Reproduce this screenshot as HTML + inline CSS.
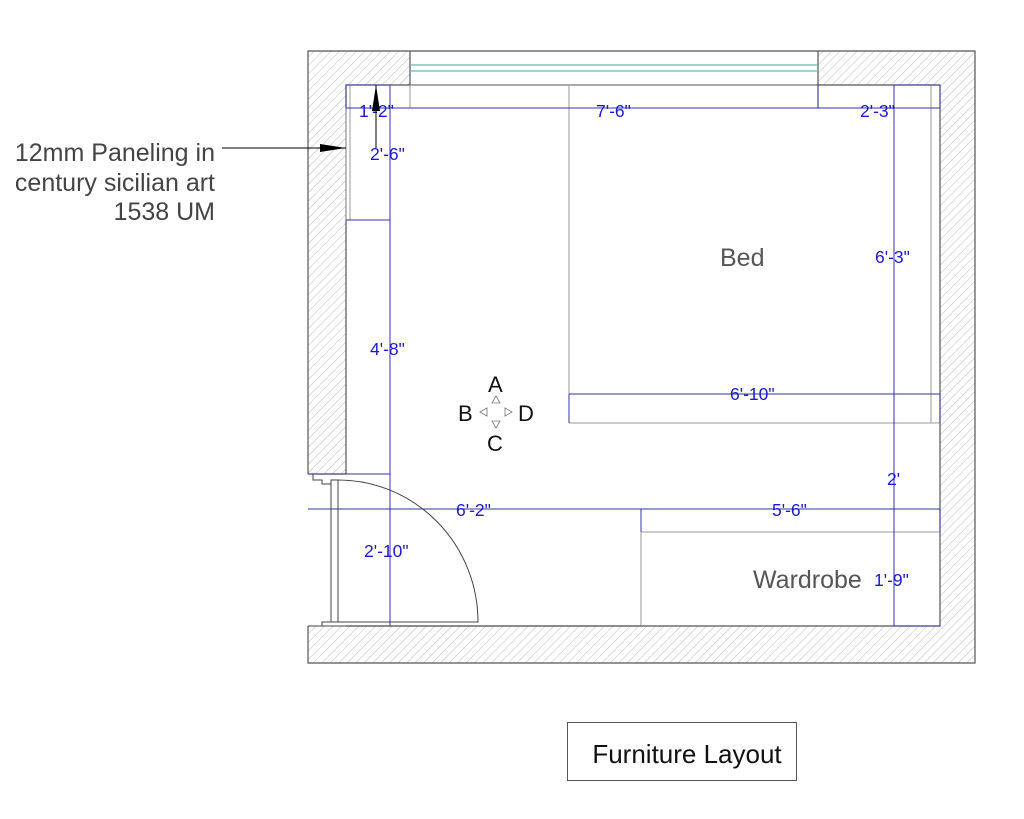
<!DOCTYPE html>
<html><head><style>
body{margin:0;background:#fff;}
svg{display:block;}
text{font-family:"Liberation Sans",Arial,sans-serif;}
</style></head><body>
<svg width="1024" height="819" viewBox="0 0 1024 819" xmlns="http://www.w3.org/2000/svg">
<defs>
<pattern id="h" width="6" height="6" patternUnits="userSpaceOnUse" patternTransform="rotate(45)">
<line x1="0" y1="0" x2="0" y2="6" stroke="#bbb" stroke-width="1"/>
</pattern>
<marker id="ar" markerWidth="26" markerHeight="10" refX="26" refY="5" orient="auto" markerUnits="userSpaceOnUse"><path d="M0,1 L26,5 L0,9 Z" fill="#000"/></marker>
</defs>
<path d="M308,51 H975 V663 H308 Z M346,85 V474 H308 V626 H940 V85 Z" fill="url(#h)" fill-rule="evenodd"/>
<rect x="410" y="51" width="408" height="34" fill="#fff"/>
<rect x="308" y="474" width="38" height="152" fill="#fff"/>
<g fill="none" stroke="#555" stroke-width="1.2">
<path d="M308,474 V51 H975 V663 H308 V626"/>
<path d="M346,474 V85 H410 V51 M818,51 V85 H940 V626 H346"/>
<line x1="308" y1="474" x2="346" y2="474"/>
</g>
<line x1="410" y1="65" x2="818" y2="65" stroke="#6bb8b0" stroke-width="1.2"/>
<line x1="410" y1="71" x2="818" y2="71" stroke="#6bb8b0" stroke-width="1.2"/>
<line x1="410" y1="85" x2="818" y2="85" stroke="#555" stroke-width="1"/>
<g fill="none" stroke="#999" stroke-width="1">
<rect x="346" y="85" width="4" height="135"/>
<line x1="410" y1="85" x2="410" y2="108"/>
<line x1="569" y1="85" x2="569" y2="423"/>
<line x1="569" y1="423" x2="940" y2="423"/>
<line x1="931" y1="85" x2="931" y2="423"/>
<line x1="641" y1="509" x2="641" y2="626"/>
<line x1="641" y1="532" x2="940" y2="532"/>
</g>
<line x1="818" y1="85" x2="818" y2="108" stroke="#1a1a99" stroke-width="1"/>
<g fill="none" stroke="#3333aa" stroke-width="1">
<rect x="346" y="85" width="44" height="23"/>
<line x1="390" y1="85" x2="390" y2="626"/>
<line x1="346" y1="108" x2="940" y2="108"/>
<line x1="346" y1="220" x2="390" y2="220"/>
<line x1="308" y1="474" x2="390" y2="474"/>
<rect x="894" y="85" width="46" height="23"/>
<line x1="894" y1="85" x2="894" y2="626"/>
<line x1="569" y1="394" x2="940" y2="394"/>
<line x1="569" y1="394" x2="569" y2="423"/>
<line x1="940" y1="394" x2="940" y2="423"/>
<line x1="308" y1="509" x2="940" y2="509"/>
<line x1="641" y1="509" x2="641" y2="532"/>
<line x1="940" y1="509" x2="940" y2="532"/>
<line x1="894" y1="626" x2="940" y2="626"/>
</g>
<g fill="none" stroke="#444" stroke-width="1">
<path d="M313,474 V480 H322 V484 H331 V622 H322 V626"/>
<rect x="331" y="480" width="7" height="142"/>
<path d="M338,480 A140,142 0 0 1 478,622 H338"/>
<line x1="308" y1="626" x2="641" y2="626"/>
</g>
<g fill="#1a1acc" font-size="17.5">
<text x="359" y="117">1'-2"</text>
<text x="596" y="117">7'-6"</text>
<text x="860" y="117">2'-3"</text>
<text x="370" y="160">2'-6"</text>
<text x="875" y="263">6'-3"</text>
<text x="370" y="355">4'-8"</text>
<text x="730" y="400">6'-10"</text>
<text x="887" y="485">2'</text>
<text x="456" y="516">6'-2"</text>
<text x="772" y="516">5'-6"</text>
<text x="364" y="557">2'-10"</text>
<text x="874" y="586">1'-9"</text>
</g>
<text x="720" y="266" fill="#555" font-size="25">Bed</text>
<text x="753" y="588" fill="#555" font-size="25">Wardrobe</text>
<text x="488" y="392" font-size="22" fill="#111">A</text>
<text x="458" y="421" font-size="22" fill="#111">B</text>
<text x="518" y="421" font-size="22" fill="#111">D</text>
<text x="487" y="451" font-size="22" fill="#111">C</text>
<g fill="none" stroke="#777" stroke-width="0.8">
<path d="M496,396 L492,403 H500 Z"/>
<path d="M496,428 L492,421 H500 Z"/>
<path d="M480,412 L487,408 V416 Z"/>
<path d="M512,412 L505,408 V416 Z"/>
</g>
<g fill="#444" font-size="25" text-anchor="end">
<text x="215" y="161">12mm Paneling in</text>
<text x="215" y="191">century sicilian art</text>
<text x="215" y="220">1538 UM</text>
</g>
<line x1="222" y1="148" x2="346" y2="148" stroke="#000" stroke-width="1" marker-end="url(#ar)"/>
<line x1="376" y1="148" x2="376" y2="85" stroke="#000" stroke-width="1" marker-end="url(#ar)"/>
<rect x="567.5" y="722.5" width="229" height="58" fill="none" stroke="#555" stroke-width="1"/>
<text x="687" y="763" text-anchor="middle" font-size="26" fill="#111">Furniture Layout</text>
</svg>
</body></html>
